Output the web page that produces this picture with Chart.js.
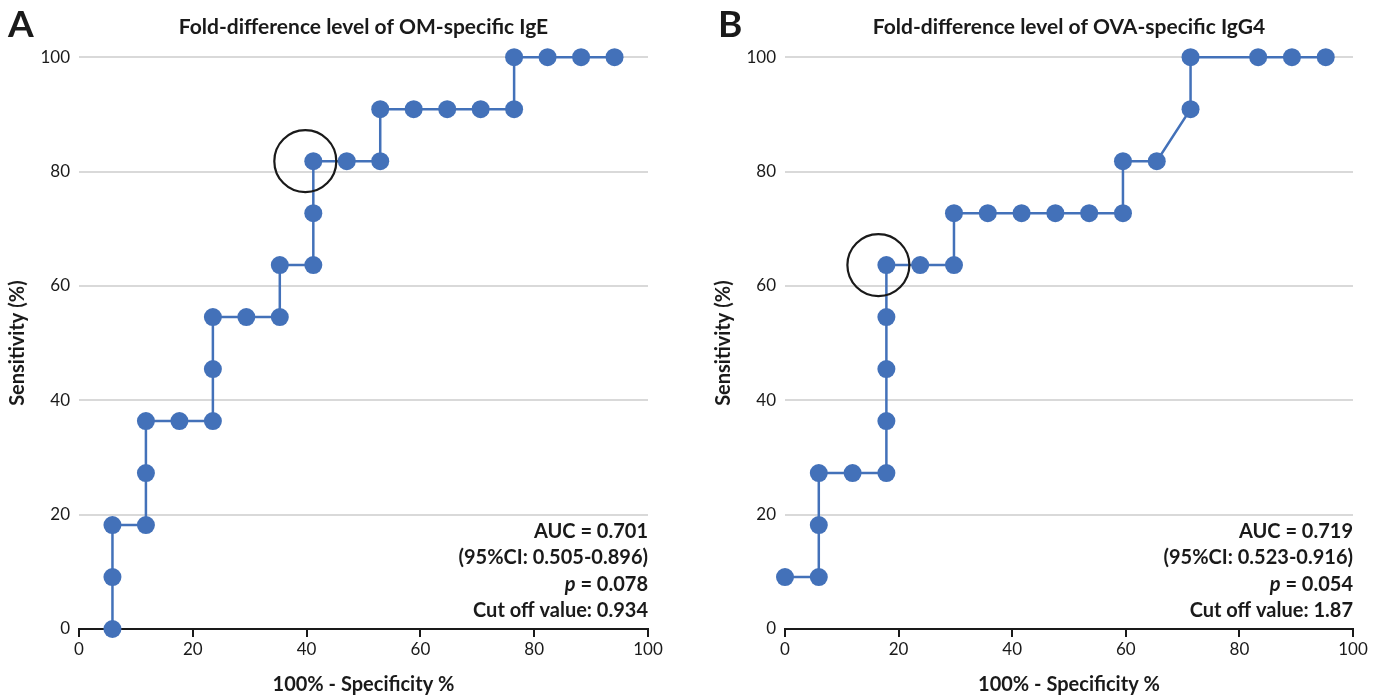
<!DOCTYPE html>
<html>
<head>
<meta charset="utf-8">
<script src="https://cdn.jsdelivr.net/npm/chart.js"></script>
<style>
  body { margin: 0; background: #fff; }
  .panel { position: absolute; top: 0; height: 698px; }
  #wrapA { left: 0; width: 706px; }
  #wrapB { left: 706px; width: 678px; }
</style>
</head>
<body>
<div class="panel" id="wrapA"><canvas id="chartA"></canvas></div>
<div class="panel" id="wrapB"><canvas id="chartB"></canvas></div>
<script>
// panel A - OM-specific IgE
var omX = [5.88, 5.88, 5.88, 11.76, 11.76, 11.76, 17.65, 23.53, 23.53, 23.53, 29.41, 35.29, 35.29,
  41.18, 41.18, 41.18, 47.06, 52.94, 52.94, 58.82, 64.71, 70.59, 76.47, 76.47, 82.35, 88.24, 94.12];
var omY = [0, 9.09, 18.18, 18.18, 27.27, 36.36, 36.36, 36.36, 45.45, 54.55, 54.55, 54.55, 63.64,
  63.64, 72.73, 81.82, 81.82, 81.82, 90.91, 90.91, 90.91, 90.91, 90.91, 100, 100, 100, 100];
var omCut = 15;
var omStats = ['AUC = 0.701', '(95%CI: 0.505-0.896)', '0.078', 'Cut off value: 0.934'];

// panel B - OVA-specific IgG4 (x)
var ovaX = [0, 5.95, 5.95, 5.95, 11.9, 17.85, 17.85, 17.85, 17.85, 17.85, 23.8, 29.75, 29.75,
  35.7, 41.65, 47.6, 53.55, 59.5, 59.5, 65.45, 71.4, 71.4, 83.3, 89.25, 95.2];
var ovaY = [9.09, 9.09, 18.18, 27.27, 27.27, 27.27, 36.36, 45.45, 54.55, 63.64, 63.64, 63.64, 72.73,
  72.73, 72.73, 72.73, 72.73, 72.73, 81.82, 81.82, 90.91, 100, 100, 100, 100];
var ovaCut = 9;
var ovaStats = ['AUC = 0.719', '(95%CI: 0.523-0.916)', '0.054', 'Cut off value: 1.87'];

var xTicks = [0, 20, 40, 60, 80, 100];
var yTicks = [0, 20, 40, 60, 80, 100];

var blue = '#4371b9';
var FONT = 'Lato';

// draws panel letter, highlight ring and the stats box
var extras = {
  id: 'extras',
  afterDatasetsDraw: function (chart, args, opts) {
    var ctx = chart.ctx, area = chart.chartArea;
    ctx.save();
    // ring round cut-off point
    var pt = chart.getDatasetMeta(0).data[opts.cut];
    ctx.beginPath();
    ctx.arc(pt.x - 8, pt.y, 31, 0, Math.PI * 2);
    ctx.lineWidth = 2.2;
    ctx.strokeStyle = '#1a1a1a';
    ctx.stroke();

    // letter
    ctx.fillStyle = '#1a1a1a';
    ctx.font = 'bold 37px ' + FONT;
    ctx.textAlign = 'left';
    ctx.textBaseline = 'alphabetic';
    ctx.fillText(opts.letter, opts.letterX, 37);

    // stats
    var s = opts.stats;
    var right = area.right;
    var base = [538, 564, 591, 617];
    ctx.font = 'bold 20px ' + FONT;
    ctx.textAlign = 'right';
    ctx.fillText(s[0], right, base[0]);
    ctx.fillText(s[1], right, base[1]);
    var rest = ' = ' + s[2];
    ctx.fillText(rest, right, base[2]);
    var w = ctx.measureText(rest).width;
    ctx.font = 'italic bold 20px ' + FONT;
    ctx.fillText('p', right - w, base[2]);
    ctx.font = 'bold 20px ' + FONT;
    ctx.fillText(s[3], right, base[3]);
    ctx.restore();
  }
};

function makeChart(id, xs, ys, cut, stats, title, letter, letterX, padRight) {
  var pts = xs.map(function (x, i) { return { x: x, y: ys[i] }; });
  return new Chart(document.getElementById(id), {
    type: 'line',
    data: {
      datasets: [{
        data: pts,
        borderColor: blue,
        backgroundColor: blue,
        borderWidth: 2.5,
        pointRadius: 9,
        pointHoverRadius: 9,
        pointBorderWidth: 0,
        fill: false,
        tension: 0,
        clip: false
      }]
    },
    options: {
      responsive: true,
      maintainAspectRatio: false,
      animation: false,
      events: [],
      layout: { padding: { top: 0, right: padRight, left: 0, bottom: 0 } },
      plugins: {
        legend: { display: false },
        tooltip: { enabled: false },
        title: {
          display: true,
          text: title,
          fullSize: false,
          color: '#1a1a1a',
          font: { family: FONT, size: 21, weight: 'bold' },
          padding: { top: 15, bottom: 17 }
        },
        extras: { cut: cut, stats: stats, letter: letter, letterX: letterX }
      },
      scales: {
        x: {
          type: 'linear',
          min: 0, max: 100,
          afterBuildTicks: function (s) { s.ticks = xTicks.map(function (v) { return { value: v }; }); },
          afterFit: function (s) { s.height = 69; },
          grid: { drawOnChartArea: false, drawTicks: true, tickLength: 8, color: '#1a1a1a', lineWidth: 2 },
          border: { display: true, color: '#1a1a1a', width: 2 },
          ticks: { color: '#1a1a1a', padding: 2, maxRotation: 0, font: { family: FONT, size: 17 } },
          title: {
            display: true, text: '100% - Specificity %', color: '#1a1a1a',
            font: { family: FONT, size: 20, weight: 'bold' }, padding: { top: 4, bottom: 1 }
          }
        },
        y: {
          type: 'linear',
          min: 0, max: 100,
          afterBuildTicks: function (s) { s.ticks = yTicks.map(function (v) { return { value: v }; }); },
          afterFit: function (s) { s.width = 79; },
          grid: { color: '#d9d9d9', lineWidth: 2, drawTicks: false },
          border: { display: false },
          ticks: { color: '#1a1a1a', padding: 9, font: { family: FONT, size: 17 } },
          title: {
            display: true, text: 'Sensitivity (%)', color: '#1a1a1a',
            font: { family: FONT, size: 20, weight: 'bold' }, padding: { top: 6, bottom: 0 }
          }
        }
      }
    },
    plugins: [extras]
  });
}

makeChart('chartA', omX, omY, omCut, omStats, 'Fold-difference level of OM-specific IgE', 'A', 8, 58);
makeChart('chartB', ovaX, ovaY, ovaCut, ovaStats, 'Fold-difference level of OVA-specific IgG4', 'B', 12, 31);
</script>
</body>
</html>
